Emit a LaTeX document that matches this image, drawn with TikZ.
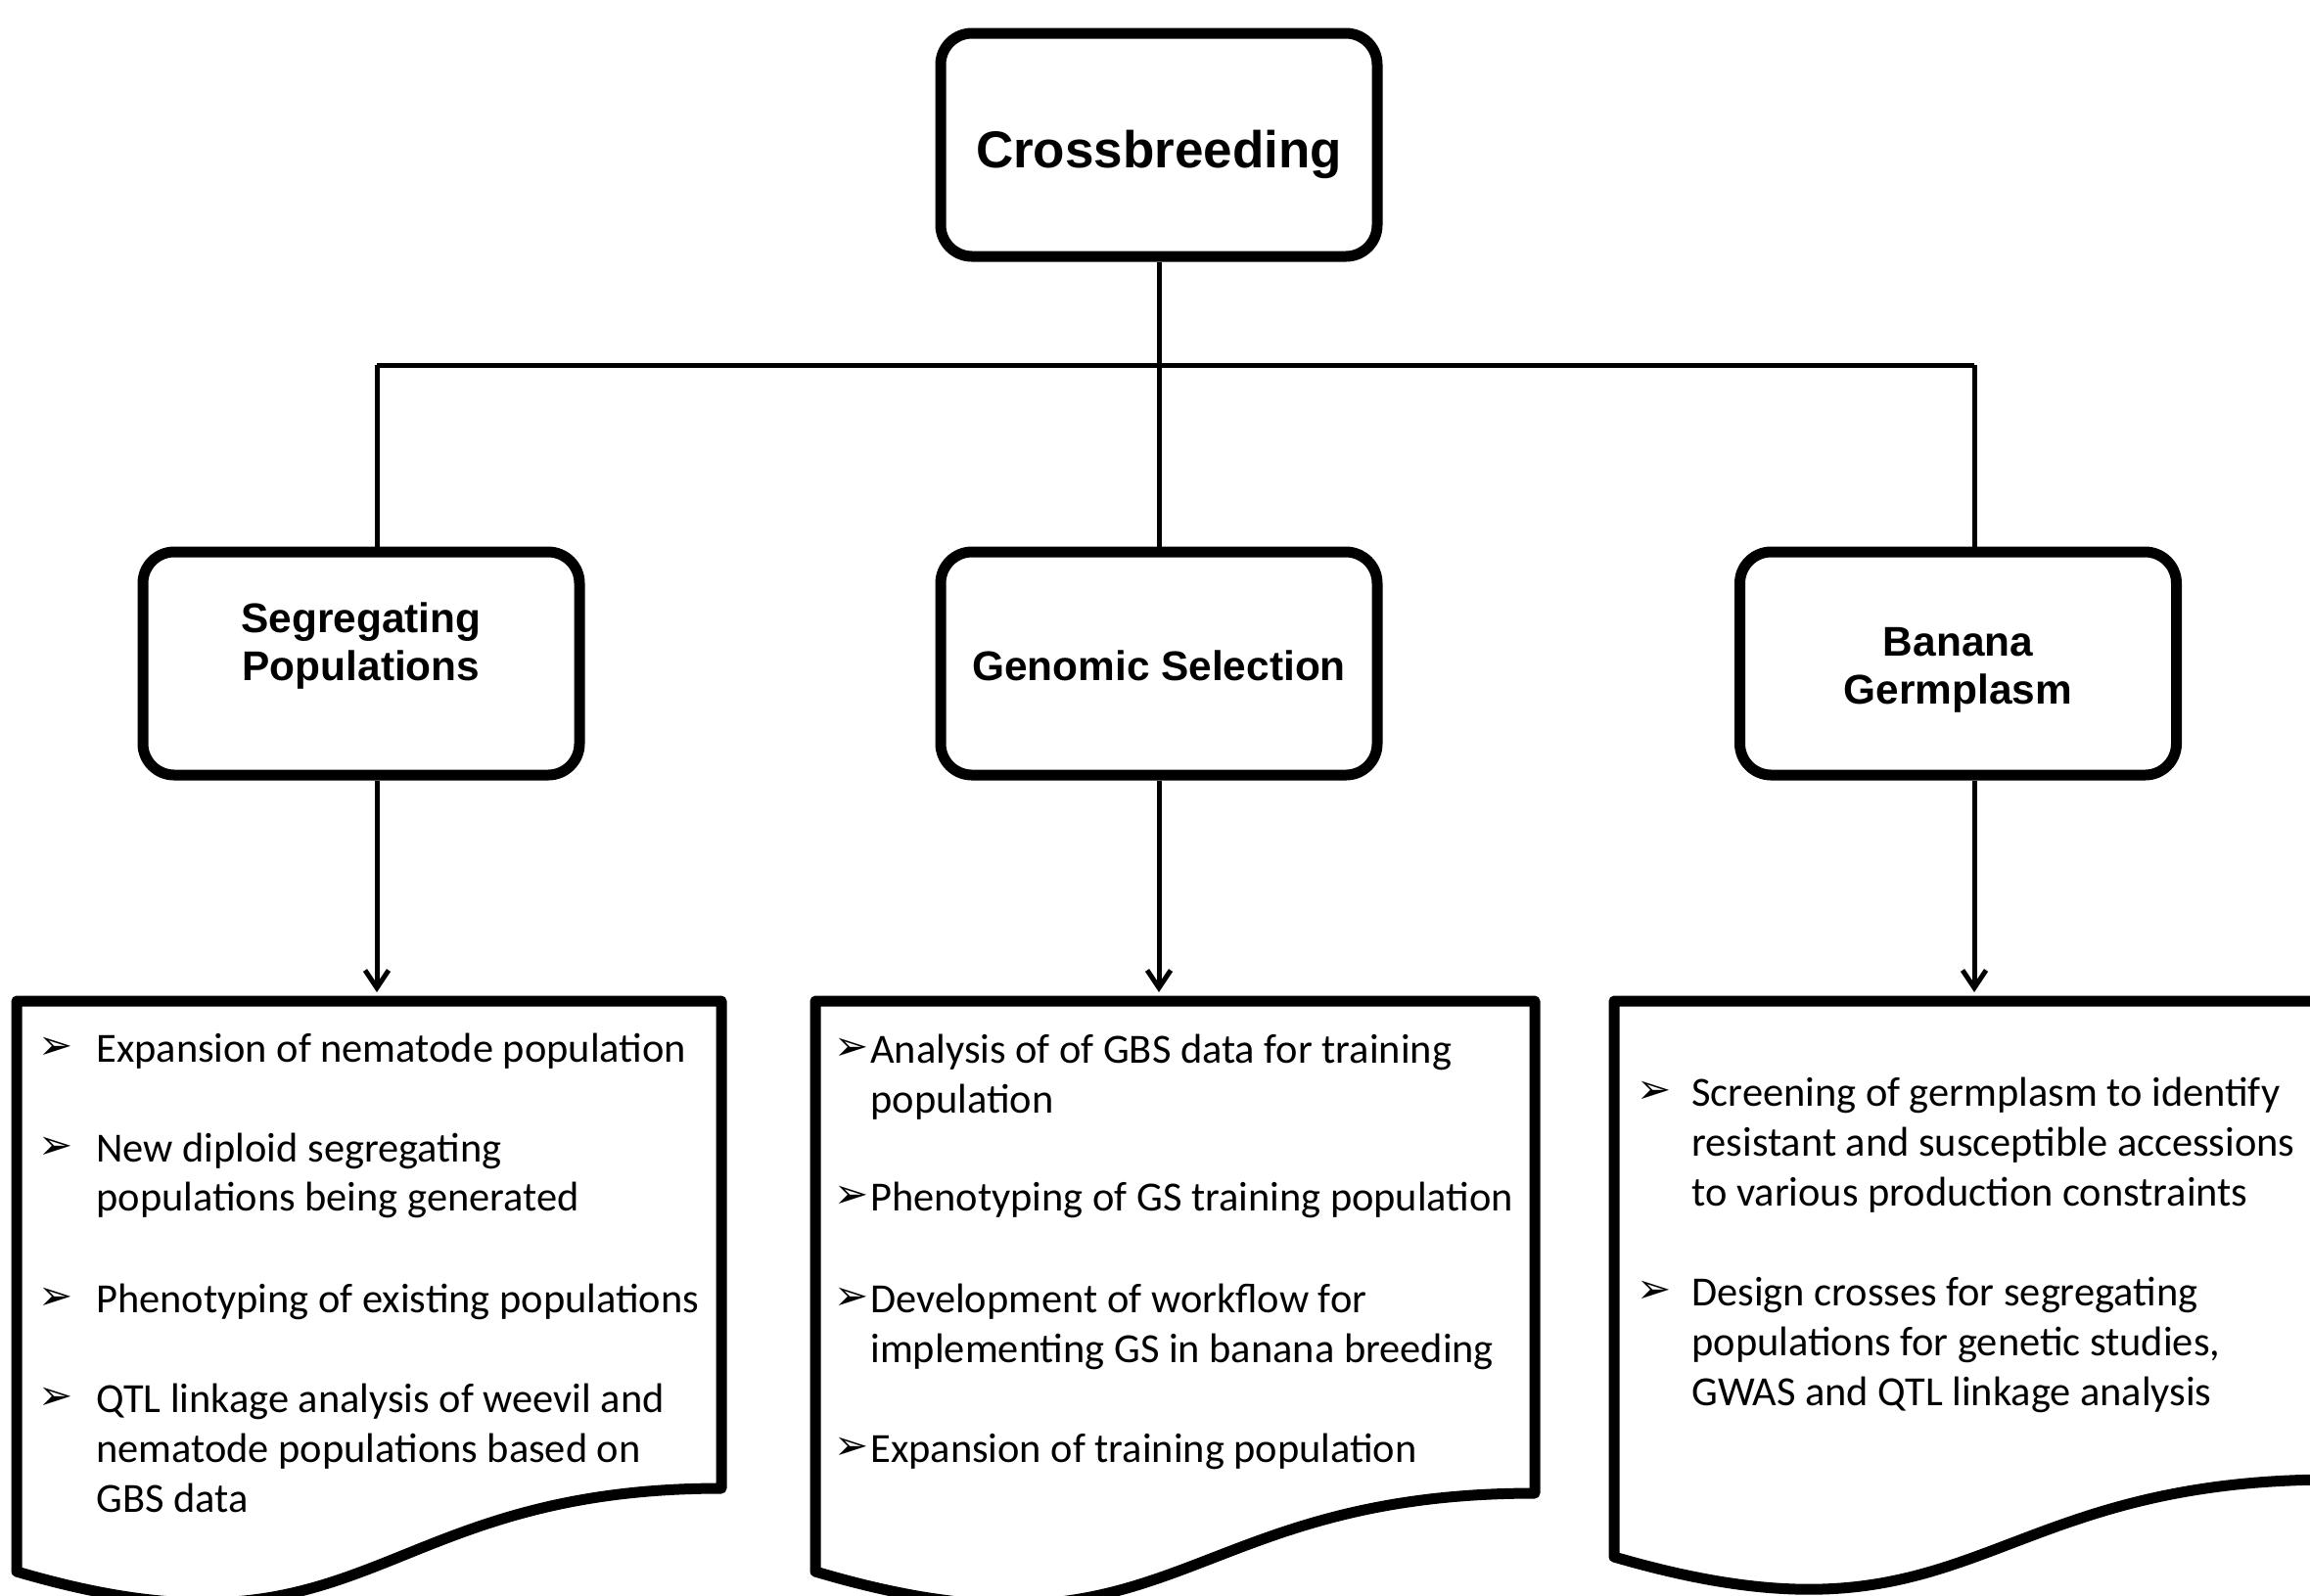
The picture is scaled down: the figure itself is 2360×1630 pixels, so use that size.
\documentclass[tikz,border=0pt]{standalone}
\usepackage{fontspec}
\setmainfont{Carlito}
\newfontfamily\hfont{Liberation Sans}
\newfontfamily\bfont{DejaVu Sans}
\usetikzlibrary{arrows.meta}
\begin{document}
\begin{tikzpicture}[x=0.5pt,y=-0.5pt,
  tbox/.style={draw,line width=5.5pt,rounded corners=16pt,minimum width=223pt,minimum height=114pt,inner sep=0pt},
  conn/.style={line width=2.5pt},
  arr/.style={line width=2.5pt,-{Straight Barb[length=9pt,width=12pt]}},
  docshape/.style={line width=5.5pt,line join=round},
  ttl/.style={font=\hfont\bfseries\fontsize{21.2}{24}\selectfont,anchor=base,inner sep=0pt},
  bigttl/.style={font=\hfont\bfseries\fontsize{26.5}{30}\selectfont,anchor=base,inner sep=0pt},
  txt/.style={font=\fontsize{21.2}{25}\selectfont,anchor=base west,inner sep=0pt},
  bul/.style={font=\bfont\fontsize{21}{21}\selectfont,anchor=base west,inner sep=0pt,yshift=1.5pt}]
\useasboundingbox (0,0) rectangle (2360,1630);
\fill[white] (0,0) rectangle (2360,1630);
\clip (0,0) rectangle (2360,1630);

% boxes
\node[tbox] (cb) at (1184,148) {};
\node[tbox] (sp) at (369,678) {};
\node[tbox] (gs) at (1184,678) {};
\node[tbox] (bg) at (2000.5,678) {};

\node[bigttl] (cbt) at (1184,171) {Crossbreeding};
\node[ttl] (spt1) at (369,646) {Segregating};
\node[ttl] (spt2) at (369,695) {Populations};
\node[ttl] (gst) at (1184,695) {Genomic Selection};
\node[ttl] (bgt1) at (2000.5,670) {Banana};
\node[ttl] (bgt2) at (2000.5,719) {Germplasm};

% junctions
\coordinate (j1) at (385,373);
\coordinate (j3) at (2017,373);
\coordinate (d1) at (385,1014);
\coordinate (d2) at (1184,1014);
\coordinate (d3) at (2017,1014);

% documents
\draw[docshape] (17,1023) -- (737,1023) -- (737,1521) .. controls (377,1521) and (377,1712) .. (17,1606) -- cycle;
\draw[docshape] (833,1023) -- (1568,1023) -- (1568,1526) .. controls (1200,1526) and (1200,1715) .. (833,1606) -- cycle;
\draw[docshape] (1649,1023) -- (2384,1023) -- (2384,1512) .. controls (2016,1512) and (2016,1698) .. (1649,1591) -- cycle;

% connectors
\draw[conn] (cb.south) -- (gs.north);
\draw[conn] (j1) -- (j3);
\draw[conn] (j1) -- (sp.north -| j1);
\draw[conn] (j3) -- (bg.north -| j3);
\draw[arr] (sp.south -| j1) -- (d1);
\draw[arr] (gs.south) -- (d2);
\draw[arr] (bg.south -| j3) -- (d3);

% doc 1 text
\node[bul] (ba1) at (39,1085) {➢};
\node[txt] (ta1) at (98,1085) {Expansion of nematode population};
\node[bul] (ba2) at (39,1187) {➢};
\node[txt] (ta2) at (98,1187) {New diploid segregating};
\node[txt] (ta3) at (98,1237) {populations being generated};
\node[bul] (ba4) at (39,1341) {➢};
\node[txt] (ta4) at (98,1341) {Phenotyping of existing populations};
\node[bul] (ba5) at (39,1443) {➢};
\node[txt] (ta5) at (98,1443) {QTL linkage analysis of weevil and};
\node[txt] (ta6) at (98,1494) {nematode populations based on};
\node[txt] (ta7) at (98,1545) {GBS data};

% doc 2 text
\node[bul] (bb1) at (852,1086) {➢};
\node[txt] (tb1) at (889,1086) {Analysis of of GBS data for training};
\node[txt] (tb2) at (889,1137) {population};
\node[bul] (bb3) at (852,1237) {➢};
\node[txt] (tb3) at (889,1237) {Phenotyping of GS training population};
\node[bul] (bb4) at (852,1341) {➢};
\node[txt] (tb4) at (889,1341) {Development of workflow for};
\node[txt] (tb5) at (889,1392) {implementing GS in banana breeding};
\node[bul] (bb6) at (852,1494) {➢};
\node[txt] (tb6) at (889,1494) {Expansion of training population};

% doc 3 text
\node[bul] (bc1) at (1672,1130) {➢};
\node[txt] (tc1) at (1728,1130) {Screening of germplasm to identify};
\node[txt] (tc2) at (1728,1181) {resistant and susceptible accessions};
\node[txt] (tc3) at (1728,1232) {to various production constraints};
\node[bul] (bc4) at (1672,1334) {➢};
\node[txt] (tc4) at (1728,1334) {Design crosses for segregating};
\node[txt] (tc5) at (1728,1385) {populations for genetic studies,};
\node[txt] (tc6) at (1728,1436) {GWAS and QTL linkage analysis};
\end{tikzpicture}
\end{document}
